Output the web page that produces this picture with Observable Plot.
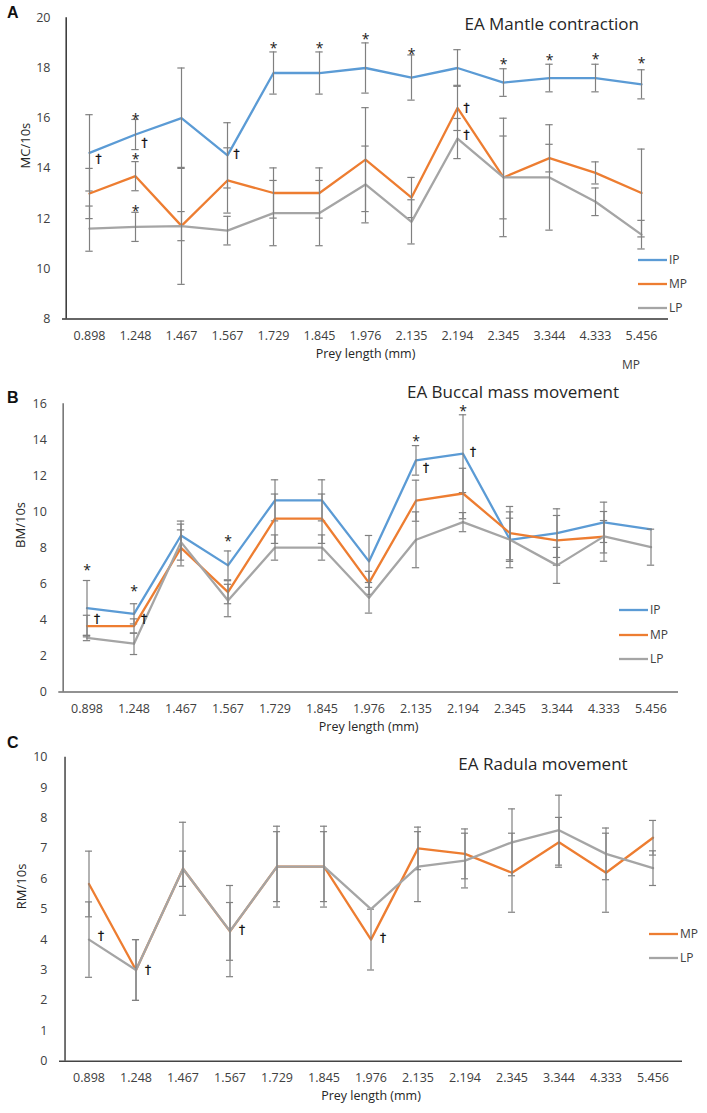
<!DOCTYPE html>
<html><head><meta charset="utf-8">
<script src="https://cdn.jsdelivr.net/npm/d3@7"></script>
<script src="https://cdn.jsdelivr.net/npm/@observablehq/plot@0.6"></script>
<style>
body{margin:0;background:#fff;font-family:"Open Sans",sans-serif;}
#wrap{position:relative;width:707px;height:1113px;overflow:hidden;background:#fff;}
.panel{position:absolute;left:0;}
.abs{position:absolute;white-space:nowrap;color:#262626;line-height:1;}
.title{font-size:17px;transform:translate(-50%,-50%);}
.letter{font-family:"Liberation Sans",Arial,sans-serif;font-weight:bold;font-size:16px;transform:translateY(-50%);color:#111;}
.leg{font-size:12px;transform:translateY(-50%);display:flex;align-items:center;color:#404040;}
.leg svg{display:block;margin-right:2px;}
</style></head><body><div id="wrap"></div><script>
// ---------- data ----------
const cats = ["0.898","1.248","1.467","1.567","1.729","1.845","1.976","2.135","2.194","2.345","3.344","4.333","5.456"];

// Panel A: EA Mantle contraction (MC/10s)
const ipA    = [14.62, 15.35, 16.0, 14.52, 17.8, 17.8, 18.0, 17.62, 18.0, 17.42, 17.6, 17.6, 17.35];
const ipAErr = [1.52, 0.6, 2.0, 1.3, 0.84, 0.84, 1.0, 0.9, 0.73, 0.55, 0.55, 0.55, 0.58];
const mpA    = [13.0, 13.69, 11.71, 13.52, 13.02, 13.02, 14.35, 12.84, 16.41, 13.64, 14.41, 13.82, 13.02];
const mpAErr = [1.0, 0.58, 2.33, 1.3, 1.0, 1.0, 2.07, 0.8, 0.9, 2.36, 0.55, 0.44, 1.75];
const lpA    = [11.6, 11.67, 11.7, 11.52, 12.22, 12.22, 13.36, 11.87, 15.19, 13.64, 13.64, 12.67, 11.36];
const lpAErr = [0.9, 0.58, 0.58, 0.57, 1.3, 1.3, 1.53, 0.88, 0.8, 1.65, 2.1, 0.55, 0.57];
const starsA = [{x:"1.248",y:16.05},{x:"1.248",y:14.46},{x:"1.248",y:12.41},{x:"1.729",y:18.9},{x:"1.845",y:18.9},{x:"1.976",y:19.26},{x:"2.135",y:18.67},{x:"2.345",y:18.24},{x:"3.344",y:18.41},{x:"4.333",y:18.46},{x:"5.456",y:18.3}];
const daggersA = [{x:"0.898",y:14.37},{x:"1.248",y:14.99},{x:"1.567",y:14.55},{x:"2.194",y:16.42},{x:"2.194",y:15.32}];
const yTicksA = [8,10,12,14,16,18,20];

// Panel B: EA Buccal mass movement (BM/10s)
const ipB    = [4.66, 4.34, 8.69, 7.03, 10.64, 10.64, 7.25, 12.86, 13.23, 8.45, 8.82, 9.42, 9.03];
const ipBErr = [1.53, 0.56, 0.8, 0.8, 1.14, 1.14, 1.44, 0.82, 2.16, 1.55, 1.35, 1.12, 0];
const mpB    = [3.66, 3.66, 8.0, 5.54, 9.62, 9.62, 6.06, 10.62, 11.02, 8.82, 8.42, 8.62, null];
const mpBErr = [0.6, 0.4, 1.0, 0.64, 1.37, 1.37, 0.64, 1.14, 1.4, 1.48, 1.38, 0.9, null];
const lpB    = [3.0, 2.68, 8.32, 5.08, 8.02, 8.02, 5.23, 8.45, 9.43, 8.45, 7.03, 8.64, 8.04];
const lpBErr = [0.15, 0.6, 1.0, 0.9, 0.7, 0.7, 0.85, 1.55, 0.53, 1.2, 1.0, 1.38, 1.0];
const starsB = [{x:"0.898",y:6.93},{x:"1.248",y:5.73},{x:"1.567",y:8.5},{x:"2.135",y:14.06},{x:"2.194",y:15.72}];
const daggersB = [{x:"0.898",y:4.06},{x:"1.248",y:4.06},{x:"2.135",y:12.45},{x:"2.194",y:13.31}];
const yTicksB = [0,2,4,6,8,10,12,14,16];

// Panel C: EA Radula movement (RM/10s)
const mpC    = [5.83, 3.0, 6.33, 4.27, 6.4, 6.4, 4.0, 7.0, 6.82, 6.2, 7.2, 6.2, 7.35];
const mpCErr = [1.08, 1.0, 0.58, 0.95, 1.33, 1.33, 1.0, 0.7, 0.82, 1.3, 0.82, 1.3, 0.57];
const lpC    = [4.0, 3.0, 6.33, 4.28, 6.4, 6.4, 5.0, 6.4, 6.6, 7.2, 7.6, 6.82, 6.35];
const lpCErr = [1.24, 1.0, 1.53, 1.5, 1.15, 1.15, 0, 1.15, 0.9, 1.1, 1.15, 0.85, 0.57];
const daggersC = [{x:"0.898",y:4.11},{x:"1.248",y:3.01},{x:"1.567",y:4.3},{x:"1.976",y:4.05}];
const yTicksC = [0,1,2,3,4,5,6,7,8,9,10];

const seriesNames = ["IP","MP","LP"];
const colors = {IP:"#5B9BD5", MP:"#ED7D31", LP:"#A5A5A5"};
const errColor = "#808080";

// ---------- drawing ----------
const wrap = document.getElementById("wrap");
const W = 707;

function panel(o) {
  const bw = (W - o.ml - o.mr) / cats.length;
  const cap = (bw - 8) / 2;
  const marks = [];
  for (const s of o.series) {
    const rows = cats.map((c, i) => ({x: c, v: s.values[i], e: s.errors[i]})).filter(d => d.v != null);
    marks.push(Plot.line(rows, {x: "x", y: "v", stroke: colors[s.name], strokeWidth: 2.3}));
    const eb = rows.filter(d => d.e);
    marks.push(Plot.ruleX(eb, {x: "x", y1: d => d.v - d.e, y2: d => d.v + d.e, stroke: errColor, strokeWidth: 1.2}));
    marks.push(Plot.tickY(eb, {x: "x", y: d => d.v - d.e, stroke: errColor, strokeWidth: 1.2, insetLeft: cap, insetRight: cap}));
    marks.push(Plot.tickY(eb, {x: "x", y: d => d.v + d.e, stroke: errColor, strokeWidth: 1.2, insetLeft: cap, insetRight: cap}));
  }
  marks.push(Plot.ruleY([o.domain[0]], {stroke: o.axisColor, strokeWidth: 1.5}));
  marks.push(Plot.ruleX([cats[0]], {dx: -bw / 2, stroke: o.axisColor, strokeWidth: 1.5}));
  if (o.stars) marks.push(Plot.text(o.stars, {x: "x", y: "y", text: () => "*", fontSize: 14, dy: 3, fill: "#1a1a1a"}));
  if (o.daggers) marks.push(Plot.text(o.daggers, {x: "x", y: "y", text: () => "\u2020", fontSize: 12, fontFamily: "DejaVu Sans", dx: o.daggerDx, fill: "#111", stroke: "#111", strokeWidth: 0.3}));
  marks.push(Plot.text([o.ylabel], {frameAnchor: "left", dx: -(o.ml - o.ylabelX), rotate: -90, fontSize: 13, fill: "#262626"}));
  marks.push(Plot.text(["Prey length (mm)"], {frameAnchor: "bottom", dy: o.xlabelDy, fontSize: 12.5, fill: "#262626"}));

  const chart = Plot.plot({
    width: W, height: o.height,
    marginTop: o.mt, marginBottom: o.mb, marginLeft: o.ml, marginRight: o.mr,
    style: {fontFamily: "Open Sans", fontSize: "12.5px", color: "#404040", background: "transparent", overflow: "visible"},
    x: {type: "band", domain: cats, padding: 0, tickSize: 0, tickPadding: 12, label: null},
    y: {domain: o.domain, ticks: o.ticks, tickSize: 0, tickPadding: 12, label: null},
    marks
  });
  chart.classList.add("panel");
  chart.style.top = o.top + "px";
  wrap.appendChild(chart);
}

function addText(cls, txt, x, y) {
  const d = document.createElement("div");
  d.className = "abs " + cls;
  d.textContent = txt;
  d.style.left = x + "px"; d.style.top = y + "px";
  wrap.appendChild(d);
}
function addLegend(names, x, y0, step) {
  names.forEach((n, i) => {
    const d = document.createElement("div");
    d.className = "abs leg";
    d.style.left = x + "px"; d.style.top = (y0 + i * step) + "px";
    d.innerHTML = `<svg width="29" height="4"><line x1="0" x2="29" y1="2" y2="2" stroke="${colors[n]}" stroke-width="2.3"/></svg><span>${n}</span>`;
    wrap.appendChild(d);
  });
}

panel({top: 0, height: 372, mt: 17.3, mb: 53.5, ml: 62, mr: 39, domain: [8, 20], ticks: yTicksA,
  series: [{name:"IP", values: ipA, errors: ipAErr},{name:"MP", values: mpA, errors: mpAErr},{name:"LP", values: lpA, errors: lpAErr}],
  stars: starsA, daggers: daggersA, daggerDx: 9, ylabel: "MC/10s", ylabelX: 25, xlabelDy: 39, axisColor: "#333"});
panel({top: 372, height: 368, mt: 31.3, mb: 48.5, ml: 58.3, mr: 29, domain: [0, 16], ticks: yTicksB,
  series: [{name:"IP", values: ipB, errors: ipBErr},{name:"MP", values: mpB, errors: mpBErr},{name:"LP", values: lpB, errors: lpBErr}],
  stars: starsB, daggers: daggersB, daggerDx: 10, ylabel: "BM/10s", ylabelX: 20, xlabelDy: 38.5, axisColor: "#6e6e6e"});
panel({top: 740, height: 373, mt: 16.7, mb: 52.3, ml: 59, mr: 25, domain: [0, 10], ticks: yTicksC,
  series: [{name:"MP", values: mpC, errors: mpCErr},{name:"LP", values: lpC, errors: lpCErr}],
  daggers: daggersC, daggerDx: 12, ylabel: "RM/10s", ylabelX: 21.7, xlabelDy: 38.5, axisColor: "#444"});

addText("title", "EA Mantle contraction", 551.7, 23);
addText("title", "EA Buccal mass movement", 513, 391);
addText("title", "EA Radula movement", 543, 763);
addText("letter", "A", 7, 13);
addText("letter", "B", 7, 398);
addText("letter", "C", 7, 743);
addText("leg", "MP", 622, 365);
addLegend(seriesNames, 638, 260, 24);
addLegend(seriesNames, 619, 610, 24.5);
addLegend(["MP","LP"], 649, 934, 24);
</script></body></html>
